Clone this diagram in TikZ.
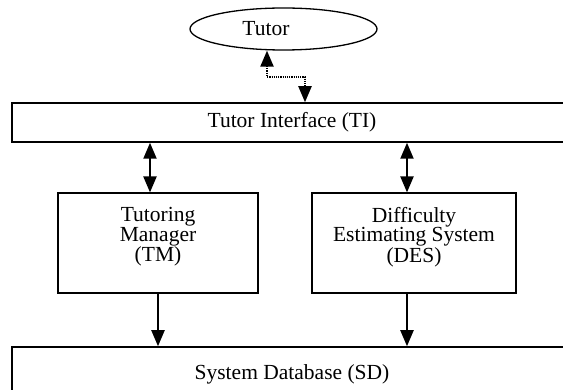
\documentclass[tikz,border=0pt]{standalone}
\usepackage{fontspec}
\setmainfont{Liberation Serif}
\usetikzlibrary{shapes.geometric,arrows.meta}
\begin{document}
\begin{tikzpicture}[x=1pt,y=-1pt,
  every node/.style={font=\fontsize{21.5}{19.5}\selectfont, inner sep=0pt},
  box/.style={draw, line width=1.5pt},
  thinbox/.style={draw, line width=1.2pt},
  arr/.style={line width=2.2pt, -{Triangle[width=13pt,length=16pt]}},
  darr/.style={line width=2.2pt, {Triangle[width=13pt,length=16pt]}-{Triangle[width=13pt,length=16pt]}},
  dotarr/.style={line width=2.2pt, dash pattern=on 1.2pt off 1pt, {Triangle[width=13pt,length=16pt]}-{Triangle[width=13pt,length=16pt]}}
]
\useasboundingbox (0,0) rectangle (563,390);
\clip (0,0) rectangle (563,390);
\node[ellipse, draw, line width=1.3pt, minimum width=187pt, minimum height=42pt] (tutor) at (283.5,29) {};
\node (tutortxt) at (266,29) {Tutor};
\node[box, minimum width=560pt, minimum height=39pt] (ti) at (292,122.5) {Tutor Interface (TI)};
\node[thinbox, minimum width=200pt, minimum height=100pt] (tm) at (158,243) {};
\node[align=center] (tmtxt) at (158,237) {Tutoring\\Manager\\(TM)};
\node[thinbox, minimum width=204pt, minimum height=100pt] (des) at (414,243) {};
\node[align=center] (destxt) at (414,237) {Difficulty\\Estimating System\\(DES)};
\node[box, minimum width=560pt, minimum height=54pt] (sd) at (292,374) {System Database (SD)};
\coordinate (c1) at (267,77);
\coordinate (c2) at (305,77);
\draw[dotarr] (tutor.south -| c1) -- (c1) -- (c2) -- (ti.north -| c2);
\draw[darr] (ti.south -| 150,0) -- (tm.north -| 150,0);
\draw[darr] (ti.south -| 407,0) -- (des.north -| 407,0);
\draw[arr] (tm.south) -- (sd.north -| tm.south);
\draw[arr] (des.south -| 407,0) -- (sd.north -| 407,0);
\end{tikzpicture}
\end{document}
